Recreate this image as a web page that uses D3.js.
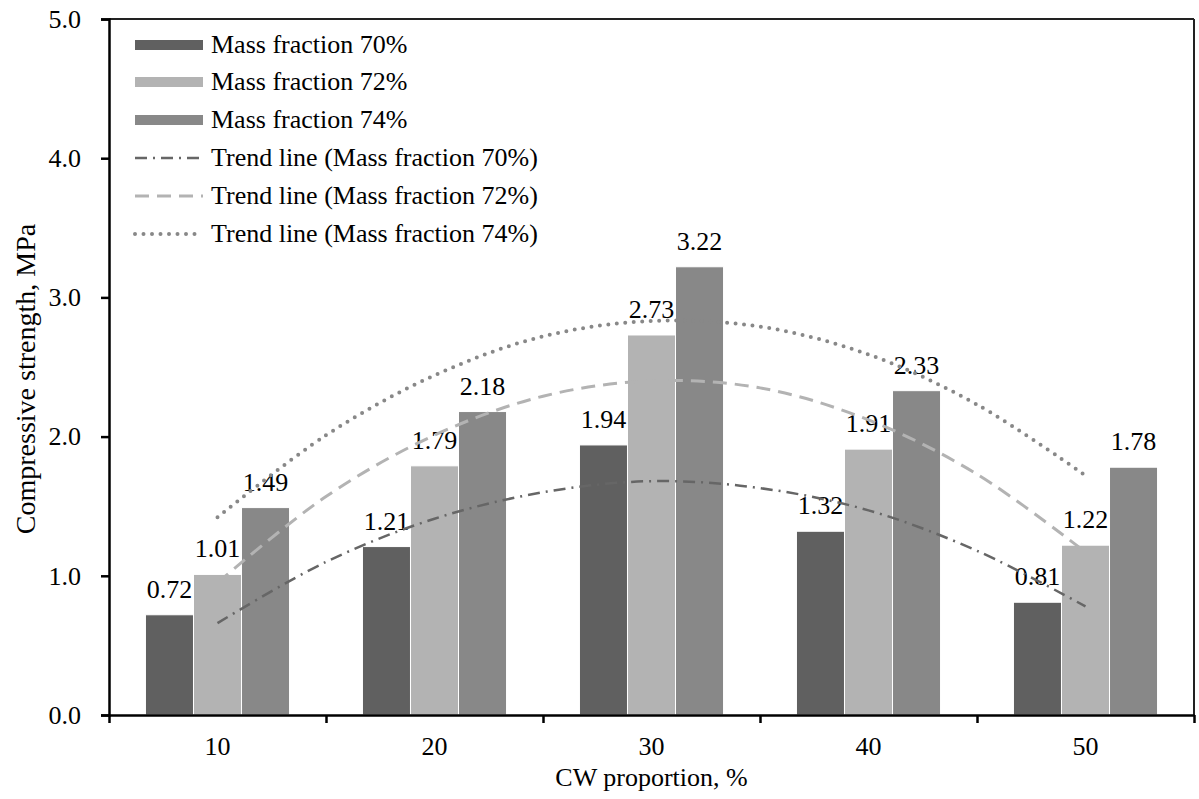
<!DOCTYPE html>
<html>
<head>
<meta charset="utf-8">
<script src="https://cdn.jsdelivr.net/npm/d3@7"></script>
<style>
  body { margin: 0; background: #fff; }
  svg text { font-family: "Liberation Serif", "Times New Roman", serif; fill: #000; }
</style>
</head>
<body>
<svg id="main-chart-svg" width="1199" height="799"></svg>
<script>
// categories (CW proportion, %)
const categories = ["10", "20", "30", "40", "50"];
const seriesNames = ["Mass fraction 70%", "Mass fraction 72%", "Mass fraction 74%"];
const mf70 = [0.72, 1.21, 1.94, 1.32, 0.81];
const mf72 = [1.01, 1.79, 2.73, 1.91, 1.22];
const mf74 = [1.49, 2.18, 3.22, 2.33, 1.78];

// trend lines
const trendX = [10, 15, 20, 25, 30, 35, 40, 45, 50];
const trend70 = [0.66, 1.10, 1.41, 1.60, 1.68, 1.63, 1.47, 1.18, 0.78];
const trend72 = [0.95, 1.57, 2.01, 2.29, 2.40, 2.35, 2.12, 1.73, 1.17];
const trend74 = [1.42, 2.01, 2.44, 2.72, 2.83, 2.79, 2.59, 2.23, 1.72];
const trendNames = ["Trend line (Mass fraction 70%)", "Trend line (Mass fraction 72%)", "Trend line (Mass fraction 74%)"];

const yTicks = [0, 1, 2, 3, 4, 5];

const barColors = ["#606060", "#b3b3b3", "#888888"];
const lineStyles = [
    { color: "#666666", width: 2.5, dash: "12,6,2,6", cap: "butt" },
    { color: "#b3b3b3", width: 3, dash: "14,8", cap: "butt" },
    { color: "#888888", width: 4, dash: "0,8.5", cap: "round" }
];

const svg = d3.select("#main-chart-svg");
const plotLeft = 109, plotRight = 1194, plotTop = 19, plotBottom = 715;
const fs = 26;

let xBand = d3.scaleBand()
    .domain(categories)
    .range([plotLeft, plotRight])
    .paddingInner(0.336)
    .paddingOuter(0.168);

let xSub = d3.scaleBand()
    .domain([0, 1, 2])
    .range([0, xBand.bandwidth()]);

let xLin = d3.scaleLinear().domain([5, 55]).range([plotLeft, plotRight]);

let yScale = d3.scaleLinear().domain([0, 5]).range([plotBottom, plotTop]);

// bars
const allSeries = [mf70, mf72, mf74];
allSeries.forEach((vals, s) => {
    svg.append("g").selectAll("rect")
        .data(vals)
        .join("rect")
        .attr("x", (d, i) => xBand(categories[i]) + xSub(s))
        .attr("y", d => yScale(d))
        .attr("width", xSub.bandwidth())
        .attr("height", d => yScale(0) - yScale(d))
        .attr("fill", barColors[s])
        .attr("stroke", "#ffffff")
        .attr("stroke-width", 1);
});

// value labels
allSeries.forEach((vals, s) => {
    svg.append("g").selectAll("text")
        .data(vals)
        .join("text")
        .attr("x", (d, i) => xBand(categories[i]) + xSub(s) + xSub.bandwidth() / 2)
        .attr("y", d => yScale(d) - 17)
        .attr("text-anchor", "middle")
        .attr("font-size", fs)
        .text(d => d.toFixed(2));
});

// trend lines
const trends = [trend70, trend72, trend74];
let line = d3.line()
    .x((d, i) => xLin(trendX[i]))
    .y(d => yScale(d))
    .curve(d3.curveCatmullRom);

trends.forEach((vals, s) => {
    svg.append("path")
        .datum(vals)
        .attr("d", line)
        .attr("fill", "none")
        .attr("stroke", lineStyles[s].color)
        .attr("stroke-width", lineStyles[s].width)
        .attr("stroke-dasharray", lineStyles[s].dash)
        .attr("stroke-linecap", lineStyles[s].cap);
});

// frame top and right
svg.append("line")
    .attr("x1", plotLeft).attr("x2", plotRight).attr("y1", plotTop).attr("y2", plotTop)
    .attr("stroke", "#222").attr("stroke-width", 2);
svg.append("line")
    .attr("x1", plotRight).attr("x2", plotRight).attr("y1", plotTop).attr("y2", plotBottom)
    .attr("stroke", "#222").attr("stroke-width", 2);

// y axis
let yAxis = d3.axisLeft(yScale)
    .tickValues(yTicks)
    .tickFormat(d3.format(".1f"))
    .tickSize(8)
    .tickPadding(20);
let gy = svg.append("g")
    .attr("transform", `translate(${plotLeft},0)`)
    .call(yAxis);
gy.select(".domain").attr("stroke", "#000").attr("stroke-width", 2.5);
gy.selectAll(".tick line").attr("stroke", "#000").attr("stroke-width", 2.5);
gy.selectAll(".tick text")
    .attr("font-size", fs)
    .attr("font-family", "Liberation Serif")
    .attr("fill", "#000");

// x axis: ticks at category boundaries, labels at centres
let xEdges = d3.scaleLinear().domain([0, categories.length]).range([plotLeft, plotRight]);
let xAxis = d3.axisBottom(xEdges)
    .tickValues(d3.range(categories.length + 1))
    .tickFormat("")
    .tickSize(8)
    .tickSizeOuter(0);
let gx = svg.append("g")
    .attr("transform", `translate(0,${plotBottom})`)
    .call(xAxis);
gx.select(".domain").attr("stroke", "#000").attr("stroke-width", 2.5);
gx.selectAll(".tick line").attr("stroke", "#000").attr("stroke-width", 2.5);

svg.append("g").selectAll("text")
    .data(categories)
    .join("text")
    .attr("x", d => xBand(d) + xBand.bandwidth() / 2)
    .attr("y", 755)
    .attr("text-anchor", "middle")
    .attr("font-size", fs)
    .text(d => d);

// axis titles
svg.append("text")
    .attr("x", (plotLeft + plotRight) / 2)
    .attr("y", 786)
    .attr("text-anchor", "middle")
    .attr("font-size", fs)
    .text("CW proportion, %");

svg.append("text")
    .attr("transform", "translate(35,379) rotate(-90)")
    .attr("text-anchor", "middle")
    .attr("font-size", 28)
    .text("Compressive strength, MPa");

// legend
const legendRows = [45, 82, 120, 158, 196, 234];
let legend = svg.append("g");
seriesNames.forEach((name, s) => {
    legend.append("rect")
        .attr("x", 135).attr("y", legendRows[s] - 5)
        .attr("width", 68).attr("height", 10)
        .attr("fill", barColors[s]);
    legend.append("text")
        .attr("x", 211).attr("y", legendRows[s] + 8)
        .attr("font-size", fs)
        .text(name);
});
trendNames.forEach((name, s) => {
    let ry = legendRows[s + 3];
    legend.append("line")
        .attr("x1", 135).attr("x2", 203).attr("y1", ry).attr("y2", ry)
        .attr("stroke", lineStyles[s].color)
        .attr("stroke-width", lineStyles[s].width)
        .attr("stroke-dasharray", lineStyles[s].dash)
        .attr("stroke-linecap", lineStyles[s].cap);
    legend.append("text")
        .attr("x", 211).attr("y", ry + 8)
        .attr("font-size", fs)
        .text(name);
});
</script>
</body>
</html>
